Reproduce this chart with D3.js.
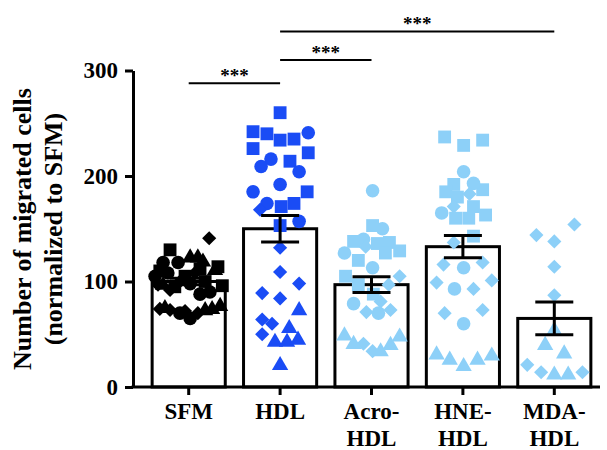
<!DOCTYPE html>
<html>
<head>
<meta charset="utf-8">
<script src="https://cdn.jsdelivr.net/npm/d3@7"></script>
<style>
  body { margin: 0; background: #fff; }
  text { font-family: "Liberation Serif", "Times New Roman", serif; font-weight: bold; }
</style>
</head>
<body>
<svg id="chart" width="607" height="450"></svg>
<script>
// groups and summary values (mean +/- SEM)
var groups = ['SFM', 'HDL', 'Acro-HDL', 'HNE-HDL', 'MDA-HDL'];
var groupLabels = [['SFM'], ['HDL'], ['Acro-', 'HDL'], ['HNE-', 'HDL'], ['MDA-', 'HDL']];
var means = [100, 150, 97, 133, 65];
var sems = [3, 12.5, 7.5, 10.5, 15.5];
var dotColors = ['#000000', '#1a4cf5', '#8dd0f8', '#8dd0f8', '#8dd0f8'];
var yTicks = [0, 100, 200, 300];

// individual points per group: value, shape, spread (-1..1 of half bar)
var sfmValues = [130, 114, 112, 110, 105, 100, 95, 96,
                 118, 118, 108, 105, 98, 88, 65, 70, 90,
                 124, 124, 120, 112, 98, 75, 78, 74, 76,
                 141, 108, 100, 92, 74, 73, 70, 72, 97];
var sfmShapes = ['s','s','s','s','s','s','s','s',
                 'c','c','c','c','c','c','c','c','c',
                 't','t','t','t','t','t','t','t','t',
                 'd','d','d','d','d','d','d','d','d'];
var sfmSpread = [-0.51, 0.80, 0.31, -0.79, -0.10, 0.45, -0.38, 0.92,
                 -0.70, -0.29, -0.57, -0.92, 0.04, 0.31, 0.04, -0.24, 0.58,
                 0.04, 0.25, 0.39, 0.72, -0.70, 0.64, 0.86, 0.45, -0.65,
                 0.56, 0.17, -0.24, -0.51, -0.79, -0.51, 0.25, -0.10, -0.84];

var hdlValues = [260, 242, 240, 234, 235, 226, 222, 214, 185, 171, 174, 153,
                 241, 216, 209, 204, 192, 185, 174, 157,
                 168, 132, 109, 98, 89, 84, 64, 60, 50,
                 74, 57, 44, 44, 46, 22];
var hdlShapes = ['s','s','s','s','s','s','s','s','s','s','s','s',
                 'c','c','c','c','c','c','c','c',
                 'd','d','d','d','d','d','d','d','d',
                 't','t','t','t','t','t'];
var hdlSpread = [0, -0.74, -0.36, 0, 0.38, -0.74, 0.77, 0.27, 0.74, 0.03, 0.38, 0,
                 0.77, -0.25, -0.52, 0.52, 0, -0.74, -0.36, 0.52,
                 -0.55, 0, 0, 0.52, -0.49, 0, -0.49, -0.22, -0.49,
                 0.52, 0.25, -0.14, 0.19, 0.49, 0];

var acroValues = [186, 150, 140, 127, 113, 79, 70,
                  153, 138, 136, 137, 127, 129, 120, 105, 97, 88,
                  133, 105, 97, 81, 71, 73, 41, 34,
                  50, 42, 35, 41, 49];
var acroShapes = ['c','c','c','c','c','c','c',
                  's','s','s','s','s','s','s','s','s','s',
                  'd','d','d','d','d','d','d','d',
                  't','t','t','t','t'];
var acroSpread = [0.03, 0.30, -0.22, -0.74, 0.03, -0.49, 0.19,
                  0.03, -0.49, 0.16, 0.49, 0.38, 0.77, -0.36, -0.71, -0.36, 0.05,
                  -0.16, 0.77, 0.47, 0.25, -0.14, 0.52, -0.22, 0.03,
                  -0.74, -0.49, 0.25, 0.52, 0.77];

var hneValues = [237, 229, 234, 192, 185, 187, 180, 171, 163, 160, 160, 143,
                 204, 193, 165, 113, 93, 60,
                 183, 171, 137, 116, 118, 99, 93, 101, 70, 73,
                 32, 27, 21, 27, 31];
var hneShapes = ['s','s','s','s','s','s','s','s','s','s','s','s',
                 'c','c','c','c','c','c',
                 'd','d','d','d','d','d','d','d','d','d',
                 't','t','t','t','t'];
var hneSpread = [-0.50, 0.02, 0.54, -0.25, -0.47, 0.54, -0.15, 0.29, 0.62, -0.20, 0.16, 0.29,
                 0.02, 0.29, -0.58, 0.02, -0.23, 0.02,
                 0.18, -0.25, -0.25, -0.53, 0.54, -0.72, 0.29, 0.79, -0.50, 0.54,
                 -0.72, -0.36, 0.02, 0.40, 0.79];

var mdaValues = [154, 144, 138, 114, 87, 21, 14, 14,
                 55, 41, 33, 13, 13];
var mdaShapes = ['d','d','d','d','d','d','d','d',
                 't','t','t','t','t'];
var mdaSpread = [0.55, -0.49, 0, 0, 0, -0.74, -0.36, 0.77,
                 0, -0.25, 0.27, 0, 0.38];

var pointValues = [sfmValues, hdlValues, acroValues, hneValues, mdaValues];
var pointShapes = [sfmShapes, hdlShapes, acroShapes, hneShapes, mdaShapes];
var pointSpread = [sfmSpread, hdlSpread, acroSpread, hneSpread, mdaSpread];

// significance comparisons [from, to]
var comparisons = [[0, 1], [1, 2], [1, 4]];
var compLabels = ['***', '***', '***'];

var svg = d3.select('#chart');
var axisX0 = 133, axisX1 = 600;

var x = d3.scaleBand()
    .domain(groups)
    .range([143, 600])
    .paddingInner(0.2)
    .paddingOuter(0.1);

var y = d3.scaleLinear()
    .domain([0, 300])
    .range([387, 70.5]);

var spread = d3.scaleLinear().domain([-1, 1]).range([-x.bandwidth() / 2, x.bandwidth() / 2]);

// bars (white, black outline)
svg.append('g').selectAll('rect')
    .data(groups)
    .enter().append('rect')
    .attr('x', function(d) { return x(d); })
    .attr('y', function(d, i) { return y(means[i]); })
    .attr('width', x.bandwidth())
    .attr('height', function(d, i) { return y(0) - y(means[i]); })
    .attr('fill', '#fff')
    .attr('stroke', '#000')
    .attr('stroke-width', 3);

// symbols
var shapeType = {s: d3.symbolSquare, c: d3.symbolCircle, t: d3.symbolTriangle, d: d3.symbolSquare};
var shapeSize = {s: 165, c: 145, t: 115, d: 100};
var dots = svg.append('g');
groups.forEach(function(g, gi) {
    var cx = x(g) + x.bandwidth() / 2;
    var pts = pointValues[gi].map(function(v, i) {
        return {v: v, s: pointShapes[gi][i], o: pointSpread[gi][i]};
    });
    dots.selectAll('.p' + gi)
        .data(pts)
        .enter().append('path')
        .attr('class', 'p' + gi)
        .attr('d', function(d) { return d3.symbol().type(shapeType[d.s]).size(shapeSize[d.s])(); })
        .attr('transform', function(d) {
            var tx = cx + spread(d.o), ty = y(d.v) + (d.s === 't' ? 1.5 : 0);
            return 'translate(' + tx + ',' + ty + ')' + (d.s === 'd' ? ' rotate(45)' : '');
        })
        .attr('fill', dotColors[gi]);
});

// error bars
var err = svg.append('g').attr('stroke', '#000').attr('stroke-width', 3);
groups.forEach(function(g, i) {
    var cx = x(g) + x.bandwidth() / 2, hw = 19;
    err.append('line').attr('x1', cx).attr('x2', cx)
        .attr('y1', y(means[i] + sems[i])).attr('y2', y(means[i] - sems[i]));
    err.append('line').attr('x1', cx - hw).attr('x2', cx + hw)
        .attr('y1', y(means[i] + sems[i])).attr('y2', y(means[i] + sems[i]));
    err.append('line').attr('x1', cx - hw).attr('x2', cx + hw)
        .attr('y1', y(means[i] - sems[i])).attr('y2', y(means[i] - sems[i]));
});

// y axis
var yAxis = svg.append('g')
    .attr('transform', 'translate(' + axisX0 + ',0)')
    .call(d3.axisLeft(y).tickValues(yTicks).tickSize(8).tickSizeOuter(0).tickPadding(7));
yAxis.select('.domain').attr('stroke-width', 3);
yAxis.selectAll('.tick line').attr('stroke-width', 3);
yAxis.selectAll('.tick text').attr('font-size', 23).attr('fill', '#000')
    .attr('font-family', '"Liberation Serif", serif').attr('font-weight', 'bold');

// x axis
var xAxis = svg.append('g')
    .attr('transform', 'translate(0,' + y(0) + ')')
    .call(d3.axisBottom(x).tickSize(8).tickSizeOuter(0).tickFormat(''));
xAxis.select('.domain').remove();
xAxis.selectAll('.tick line').attr('stroke-width', 3);
xAxis.append('line').attr('x1', axisX0 - 1.5).attr('x2', axisX1)
    .attr('stroke', '#000').attr('stroke-width', 3);

var labels = svg.append('g').attr('text-anchor', 'middle').attr('font-size', 23);
groups.forEach(function(g, i) {
    var cx = x(g) + x.bandwidth() / 2;
    groupLabels[i].forEach(function(line, li) {
        labels.append('text').attr('x', cx).attr('y', 419 + li * 27).text(line);
    });
});

// y title
var title = svg.append('g').attr('text-anchor', 'middle').attr('font-size', 26);
title.append('text').attr('transform', 'translate(31,229) rotate(-90)').text('Number of migrated cells');
title.append('text').attr('transform', 'translate(62,229) rotate(-90)').text('(normalized to SFM)');

// significance brackets
var levels = [288, 310, 337];
var sig = svg.append('g');
comparisons.forEach(function(c, i) {
    var x1 = x(groups[c[0]]) + x.bandwidth() / 2, x2 = x(groups[c[1]]) + x.bandwidth() / 2;
    var ly = y(levels[i]);
    sig.append('line').attr('x1', x1).attr('x2', x2).attr('y1', ly).attr('y2', ly)
        .attr('stroke', '#000').attr('stroke-width', 2);
    sig.append('text').attr('x', (x1 + x2) / 2).attr('y', ly - 1)
        .attr('text-anchor', 'middle').attr('font-size', 19).text(compLabels[i]);
});
</script>
</body>
</html>
